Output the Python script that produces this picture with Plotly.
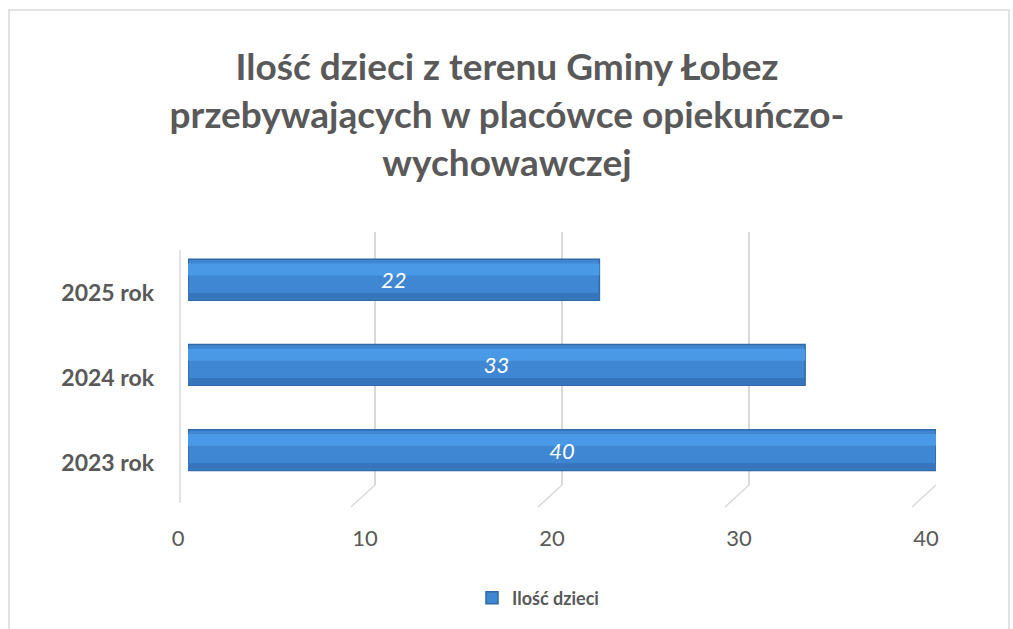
import plotly.graph_objects as go

# ---- data ----
categories = ["2023 rok", "2024 rok", "2025 rok"]
values = [40, 33, 22]
series_name = "Ilość dzieci"
x_ticks = [0, 10, 20, 30, 40]
title_lines = ["Ilość dzieci z terenu Gminy Łobez",
               "przebywających w placówce opiekuńczo-",
               "wychowawczej"]

# ---- layout constants ----
W, H = 1013, 629
ML, MR, MT, MB = 188, 77, 232, 144
FONT = "Lato"
GRAY = "#595959"
GRID = "#d9d9d9"
BAR = "#3f87d3"
BAR_EDGE = "#2f69a6"
BAR_HI = "#4a99e7"
BAR_LO = "#3675bb"

plot_w = W - ML - MR
plot_h = H - MT - MB
x_max = 40

fig = go.Figure()

# main bars
fig.add_trace(go.Bar(
    y=categories, x=values, orientation="h", name=series_name,
    width=0.48, offset=-0.24,
    marker=dict(color=BAR, line=dict(color=BAR_EDGE, width=1.5)),
    hoverinfo="x+y",
))
# highlight band (3D sheen)
fig.add_trace(go.Bar(
    y=categories, x=values, orientation="h", showlegend=False,
    width=0.14, offset=0.05,
    marker=dict(color=BAR_HI, line=dict(width=0)),
    hoverinfo="skip",
))
# darker lower band
fig.add_trace(go.Bar(
    y=categories, x=values, orientation="h", showlegend=False,
    width=0.07, offset=-0.225,
    marker=dict(color=BAR_LO, line=dict(width=0)),
    hoverinfo="skip",
))
# value labels on top
fig.add_trace(go.Bar(
    y=categories, x=values, orientation="h", showlegend=False,
    width=0.48, offset=-0.24,
    marker=dict(color="rgba(0,0,0,0)", line=dict(width=0)),
    text=[str(v) for v in values], textposition="inside",
    insidetextanchor="middle",
    textfont=dict(family=FONT, size=22, color="white", style="italic"),
    hoverinfo="skip",
))

# floor diagonal lines from each gridline (3D look)
px_per_unit = plot_w / x_max
shapes = []
for t in x_ticks:
    shapes.append(dict(
        type="line", xref="x", yref="paper",
        x0=t, y0=0, x1=t - 24 / px_per_unit, y1=-22 / plot_h,
        line=dict(color=GRID, width=1.5), layer="below",
    ))
# left wall line
shapes.append(dict(
    type="line", xref="paper", yref="paper",
    x0=-8 / plot_w, x1=-8 / plot_w, y0=-18 / plot_h, y1=1 - 18 / plot_h,
    line=dict(color=GRID, width=1.5), layer="below",
))
# chart border
shapes.append(dict(
    type="rect", xref="paper", yref="paper",
    x0=(9 - ML) / plot_w, x1=(1009 - ML) / plot_w,
    y0=-(H + 20 - (H - MB)) / plot_h, y1=1 + (MT - 10) / plot_h,
    line=dict(color="#d9d9d9", width=1.5), fillcolor="rgba(0,0,0,0)",
    layer="below",
))

fig.update_layout(
    width=W, height=H,
    margin=dict(l=ML, r=MR, t=MT, b=MB, autoexpand=False),
    paper_bgcolor="white", plot_bgcolor="white",
    barmode="overlay",
    showlegend=True,
    title=dict(
        text="<br>".join(title_lines),
        x=507 / W, xanchor="center", xref="container",
        y=1 - 80 / H, yanchor="top", yref="container",
        font=dict(family=FONT, size=37, color=GRAY, weight="bold"),
    ),
    xaxis=dict(
        range=[0, x_max], tickvals=x_ticks, ticktext=[str(t) for t in x_ticks],
        showgrid=True, gridcolor=GRID, gridwidth=1.5,
        zeroline=False, showline=False, ticks="",
        tickfont=dict(family=FONT, size=22, color=GRAY),
        ticklabelstandoff=38, ticklabelshift=-10,
    ),
    yaxis=dict(
        range=[-0.41, 2.56], showgrid=False, zeroline=False, showline=False,
        ticks="",
        tickfont=dict(family=FONT, size=23, color=GRAY, weight="bold"),
        ticklabelstandoff=33, ticklabelshift=13,
    ),
    legend=dict(
        orientation="h", x=(538 - ML) / plot_w, xanchor="center",
        y=-(598 - (H - MB)) / plot_h, yanchor="middle",
        font=dict(family=FONT, size=18, color=GRAY, weight="bold"),
        itemwidth=30,
    ),
    shapes=shapes,
)

fig.write_html("out.html", post_script="document.body.style.margin='0';",
               config={"displayModeBar": False})
